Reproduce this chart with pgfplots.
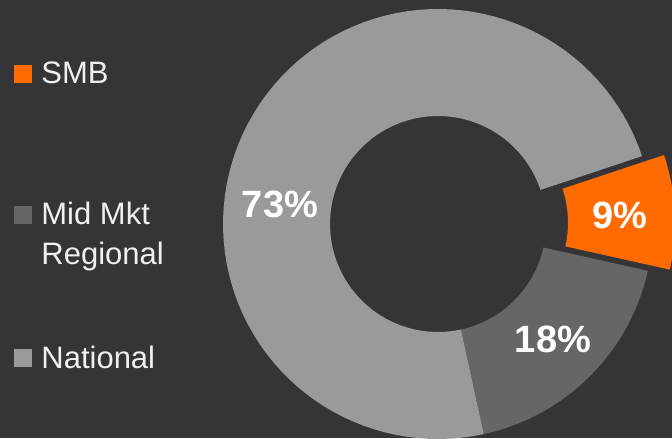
\documentclass[border=0pt]{standalone}
\usepackage{fontspec}
\setmainfont{Liberation Sans}
\usepackage{pgfplots}
\usepackage{pgfplotstable}
\pgfplotsset{compat=1.18}
\usepgfplotslibrary{fillbetween}
\definecolor{bg}{HTML}{353537}
\definecolor{cSMB}{HTML}{FF6B00}
\definecolor{cMid}{HTML}{666666}
\definecolor{cNat}{HTML}{9A9A9A}
\definecolor{txt}{HTML}{F0F0F0}

\pgfplotstableread{
name share
SMB 8.6
Mid 18.1
National 73.3
}\shares
\pgfplotstablegetelem{0}{share}\of\shares \let\sA\pgfplotsretval
\pgfplotstablegetelem{1}{share}\of\shares \let\sB\pgfplotsretval
\pgfplotstablegetelem{2}{share}\of\shares \let\sC\pgfplotsretval

\newcommand\donutwedge[5]{% cx, cy, from angle, to angle, name/color
  \addplot[draw=none, name path=o#5, domain=#3:#4, samples=90, variable=\t]
    ({#1+215*cos(\t)},{#2+215*sin(\t)});
  \addplot[draw=none, name path=i#5, domain=#3:#4, samples=90, variable=\t]
    ({#1+108*cos(\t)},{#2+108*sin(\t)});
  \addplot[fill=#5, draw=none, on layer=main] fill between[of=o#5 and i#5];
}

\begin{document}
\begin{tikzpicture}
\pgfmathsetmacro\aO{18.4}
\pgfmathsetmacro\aA{\aO-3.6*\sA}
\pgfmathsetmacro\aB{\aA-3.6*\sB}
\pgfmathsetmacro\aC{\aB-3.6*\sC}
\pgfmathsetmacro\midang{(\aO+\aA)/2}
\pgfmathsetmacro\ex{438+22*cos(\midang)}
\pgfmathsetmacro\ey{214+22*sin(\midang)}
\begin{axis}[
  width=336pt, height=219pt, scale only axis,
  xmin=0, xmax=672, ymin=0, ymax=438,
  axis lines=none,
  axis background/.style={fill=bg},
  clip=true,
]
\donutwedge{\ex}{\ey}{\aA}{\aO}{cSMB}
\donutwedge{438}{214}{\aB}{\aA}{cMid}
\donutwedge{438}{214}{\aC}{\aB}{cNat}

\node[anchor=base, text=white, font=\fontsize{19pt}{22pt}\selectfont\bfseries] at (axis cs:280,220) {73\%};
\node[anchor=base, text=white, font=\fontsize{19pt}{22pt}\selectfont\bfseries] at (axis cs:620,209) {9\%};
\node[anchor=base, text=white, font=\fontsize{19pt}{22pt}\selectfont\bfseries] at (axis cs:553,86) {18\%};

\node[fill=cSMB, inner sep=0pt, minimum size=9pt] at (axis cs:23,364) {};
\node[fill=cMid, inner sep=0pt, minimum size=9pt] at (axis cs:23,222.5) {};
\node[fill=cNat, inner sep=0pt, minimum size=9pt] at (axis cs:23,80) {};
\node[anchor=base west, inner sep=0pt, text=txt, font=\fontsize{15.5pt}{18pt}\selectfont] at (axis cs:41,354) {SMB};
\node[anchor=base west, inner sep=0pt, text=txt, font=\fontsize{15.5pt}{18pt}\selectfont] at (axis cs:41,213) {Mid Mkt};
\node[anchor=base west, inner sep=0pt, text=txt, font=\fontsize{15.5pt}{18pt}\selectfont] at (axis cs:41,173) {Regional};
\node[anchor=base west, inner sep=0pt, text=txt, font=\fontsize{15.5pt}{18pt}\selectfont] at (axis cs:41,70) {National};
\end{axis}
\end{tikzpicture}
\end{document}
